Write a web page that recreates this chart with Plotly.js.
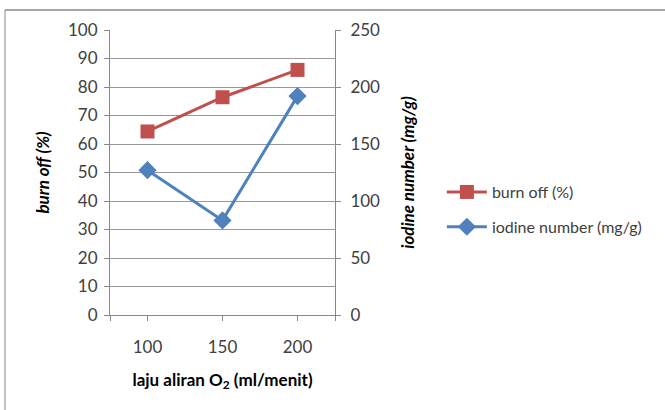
<!DOCTYPE html>
<html><head><meta charset="utf-8">
<script src="https://cdn.plot.ly/plotly-3.0.1.min.js"></script>
<style>body{margin:0;background:#fff}#c{width:665px;height:410px}</style>
</head><body><div id="c"></div>
<script>
const laju = [100, 150, 200];
const burnOff = [64.4, 76.4, 86.0];
const iodine = [127, 83, 192];
const xTickVals = [100, 150, 200];
const xTickText = ['100', '150', '200'];

const fontFam = 'Lato, "Open Sans", sans-serif';
const tickFont = {family: fontFam, size: 17, color: '#404040'};
const traces = [
  {x: laju, y: burnOff, name: 'burn off (%)', type: 'scatter', mode: 'lines+markers', legendgroup: 'a',
   line: {color: '#C0504D', width: 3}, marker: {symbol: 'square', size: 14, color: '#C0504D'}, yaxis: 'y'},
  {x: laju, y: iodine, name: 'iodine number (mg/g)', type: 'scatter', mode: 'lines+markers', legendgroup: 'b',
   line: {color: '#4F81BD', width: 3}, marker: {symbol: 'diamond', size: 14, color: '#4F81BD'}, yaxis: 'y2'}
];
const layout = {
  width: 665, height: 410,
  margin: {l: 110, r: 330, t: 30, b: 95},
  paper_bgcolor: '#fff', plot_bgcolor: '#fff',
  font: {family: fontFam, size: 16, color: '#404040'},
  showlegend: true,
  legend: {x: 1.475, y: 0.37, xanchor: 'left', yanchor: 'middle', font: {size: 16, color: '#404040'},
           traceorder: 'grouped', tracegroupgap: 11, itemwidth: 40, bgcolor: 'rgba(0,0,0,0)'},
  xaxis: {range: [75, 225], tickmode: 'array', tickvals: xTickVals, ticktext: xTickText, tickfont: tickFont,
          minor: {tickvals: [75, 225], ticks: 'outside', ticklen: 5, tickcolor: '#888', showgrid: false},
          showgrid: false, zeroline: false, showline: true, linecolor: '#888', linewidth: 1,
          ticks: 'outside', ticklen: 5, tickcolor: '#888', ticklabelstandoff: 12,
          title: {text: 'laju aliran O<sub>2</sub> (ml/menit)', font: {size: 17, color: '#000', weight: 'bold'}, standoff: 17}},
  yaxis: {range: [0, 100], tickvals: [0,10,20,30,40,50,60,70,80,90,100], tickfont: tickFont,
          showgrid: true, gridcolor: '#999', gridwidth: 1, zeroline: false,
          showline: true, linecolor: '#888', ticks: 'outside', ticklen: 5, tickcolor: '#888',
          ticklabelstandoff: 3,
          title: {text: '<i>burn off (%)</i>', font: {size: 17, color: '#000', weight: 'bold'}, standoff: 14}},
  yaxis2: {range: [0, 250], tickvals: [0,50,100,150,200,250], overlaying: 'y', side: 'right', tickfont: tickFont,
          showgrid: false, zeroline: false, showline: true, linecolor: '#888',
          ticks: 'outside', ticklen: 5, tickcolor: '#888', ticklabelstandoff: 6,
          title: {text: '<i>iodine number (mg/g)</i>', font: {size: 17, color: '#000', weight: 'bold'}, standoff: 22}},
  shapes: [
    {type: 'line', xref: 'paper', yref: 'paper', x0: -0.4667, x1: 3, y0: 1.0702, y1: 1.0702, line: {color: '#888', width: 1.5}},
    {type: 'line', xref: 'paper', yref: 'paper', x0: -0.4667, x1: -0.4667, y0: 1.0702, y1: -0.4, line: {color: '#888', width: 1}}
  ]
};
Plotly.newPlot('c', traces, layout, {displayModeBar: false, staticPlot: true});
</script></body></html>
